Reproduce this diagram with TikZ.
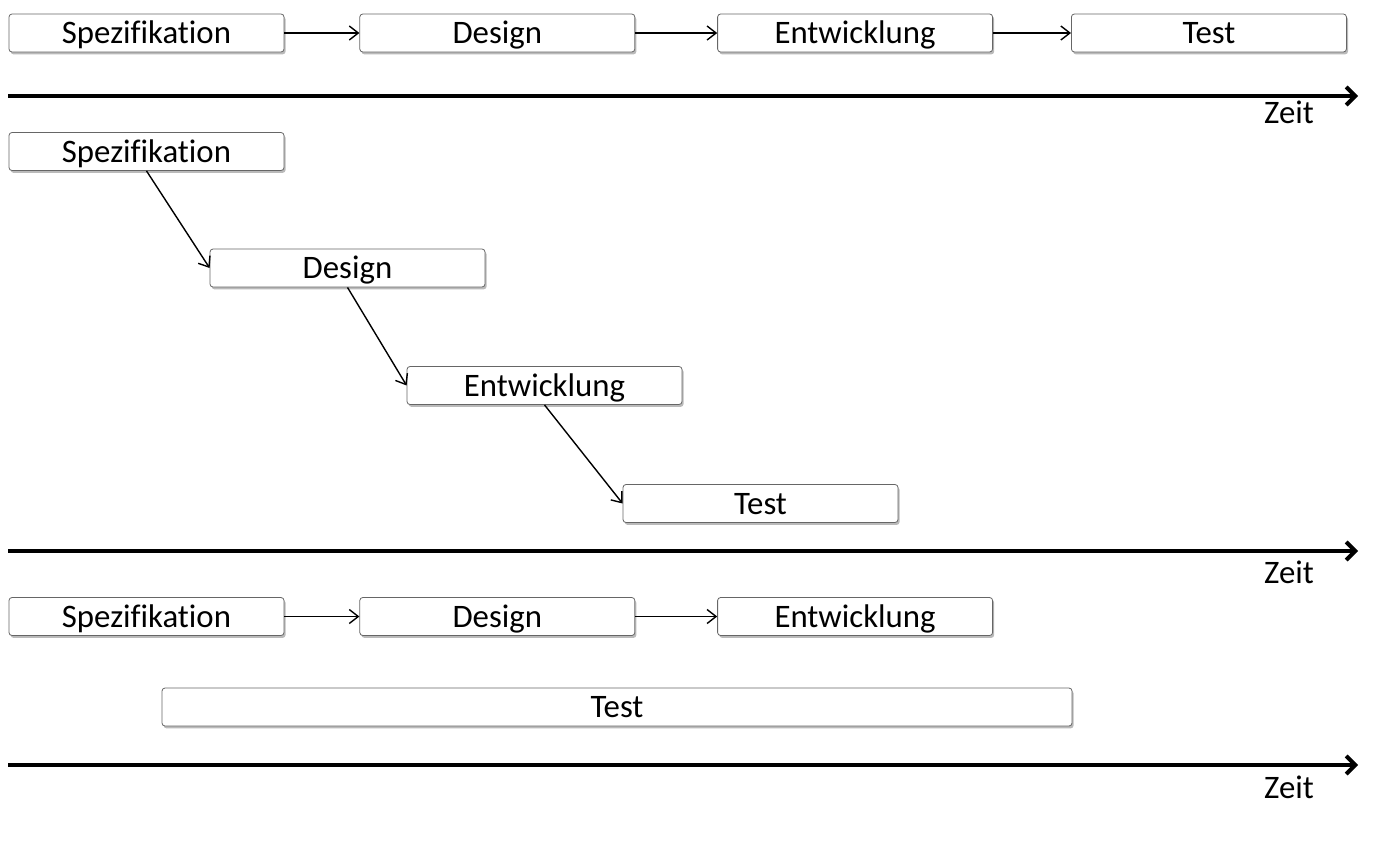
\documentclass[tikz,border=0pt]{standalone}
\usepackage{fontspec}
\setmainfont[Ligatures=NoCommon]{Carlito}
\usepackage{tikz}
\usetikzlibrary{
  arrows.meta,
  positioning,
  shadows
}

\begin{document}
\begin{tikzpicture}[x=0.5pt,y=-0.5pt,
    node distance=39.5pt,
    phase/.style={draw=black!60, fill=white, rounded corners=1.5pt,
      minimum width=137.5pt, minimum height=19pt, inner sep=0pt,
      font=\fontsize{16.4}{19}\selectfont,
      text height=10.5pt, text depth=0pt,
      drop shadow={shadow xshift=0.8pt, shadow yshift=-1.2pt,
        fill=black!60, opacity=0.45}},
    flow/.style={line width=0.7pt, -{Straight Barb[length=4.5pt,width=7pt]}},
    axis/.style={line width=2pt, -{Straight Barb[length=4.5pt,width=9pt]}},
    zeit/.style={font=\fontsize{16.4}{19}\selectfont}]
  \useasboundingbox (0,0) rectangle (1384,841);

  % Sequential phases, one after the other
  \node [phase] (spec1) at (146.5,33) {Spezifikation};
  \node [phase, right=37.5pt of spec1] (design1) {Design};
  \node [phase, right=41pt of design1] (dev1) {Entwicklung};
  \node [phase, right=39pt of dev1] (test1) {Test};

  \draw [flow] (spec1) -- (design1);
  \draw [flow] (design1) -- (dev1);
  \draw [flow] (dev1) -- (test1);

  % Time axis
  \coordinate (t1a) at (8,96);
  \coordinate (t1b) at (1358,96);
  \draw [axis] (t1a) -- (t1b);
  \node [zeit] (zeit1) at (1289,112) {Zeit};

  % Waterfall: each phase starts when the previous one ends
  \node [phase] (spec2) at (146.5,151.5) {Spezifikation};
  \node [phase] (design2) at (347.5,268) {Design};
  \node [phase] (dev2) at (544.5,385.5) {Entwicklung};
  \node [phase] (test2) at (760.5,503.5) {Test};

  \draw [flow] (spec2.south) -- (design2.west);
  \draw [flow] (design2.south) -- (dev2.west);
  \draw [flow] (dev2.south) -- (test2.west);

  % Time axis
  \coordinate (t2a) at (8,551);
  \coordinate (t2b) at (1358,551);
  \draw [axis] (t2a) -- (t2b);
  \node [zeit] (zeit2) at (1289,572) {Zeit};

  % Testing runs alongside the other phases
  \node [phase] (spec3) at (146.5,616.5) {Spezifikation};
  \node [phase, right=37.5pt of spec3] (design3) {Design};
  \node [phase, right=41pt of design3] (dev3) {Entwicklung};
  \node [phase, minimum width=455pt] (test3) at (617,707) {Test};

  \draw [flow] (spec3) -- (design3);
  \draw [flow] (design3) -- (dev3);

  % Time axis
  \coordinate (t3a) at (8,765);
  \coordinate (t3b) at (1358,765);
  \draw [axis] (t3a) -- (t3b);
  \node [zeit] (zeit3) at (1289,787) {Zeit};
\end{tikzpicture}
\end{document}
